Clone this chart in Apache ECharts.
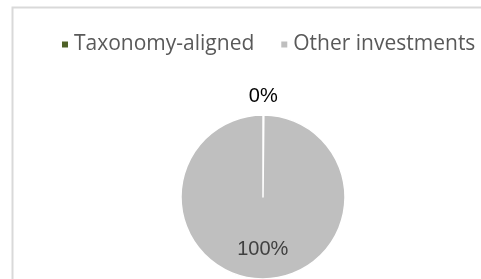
<!DOCTYPE html>
<html>
<head>
<meta charset="utf-8">
<script src="https://cdn.jsdelivr.net/npm/echarts@6/dist/echarts.min.js"></script>
<style>
html,body{margin:0;padding:0;background:#fff;}
#c{width:481px;height:279px;}
</style>
</head>
<body>
<div id="c"></div>
<script>
const categories = ['Taxonomy-aligned', 'Other investments'];
const values = [0, 100];
const colors = ['#4f6228', '#bfbfbf'];

const chart = echarts.init(document.getElementById('c'), null, {renderer: 'canvas'});
const labelFont = 'Liberation Sans, Arial, sans-serif';
const legendFont = 'Open Sans, sans-serif';

const data = categories.map((name, i) => ({
  name: name,
  value: values[i],
  itemStyle: {color: colors[i]},
  label: i === 0
    ? {position: 'inside', offset: [0, -57], color: '#000000'}
    : {position: 'inside', offset: [0, 8], color: '#404040'}
}));

chart.setOption({
  animation: false,
  graphic: [{
    type: 'rect',
    left: 10, top: 5,
    shape: {width: 600, height: 400},
    style: {fill: 'none', stroke: '#d9d9d9', lineWidth: 2},
    silent: true
  }],
  legend: {
    data: categories,
    left: 55,
    top: 29,
    itemWidth: 8,
    itemHeight: 8,
    itemGap: 25,
    icon: 'rect',
    textStyle: {fontFamily: legendFont, fontSize: 21, color: '#595959'}
  },
  series: [{
    type: 'pie',
    center: [263, 197],
    radius: 82,
    startAngle: 90,
    clockwise: true,
    minAngle: 0.6,
    avoidLabelOverlap: false,
    itemStyle: {borderColor: '#ffffff', borderWidth: 1.5},
    label: {
      show: true,
      formatter: '{d}%',
      fontFamily: labelFont,
      fontSize: 20
    },
    labelLine: {show: false},
    emphasis: {disabled: true},
    data: data
  }]
});
</script>
</body>
</html>
